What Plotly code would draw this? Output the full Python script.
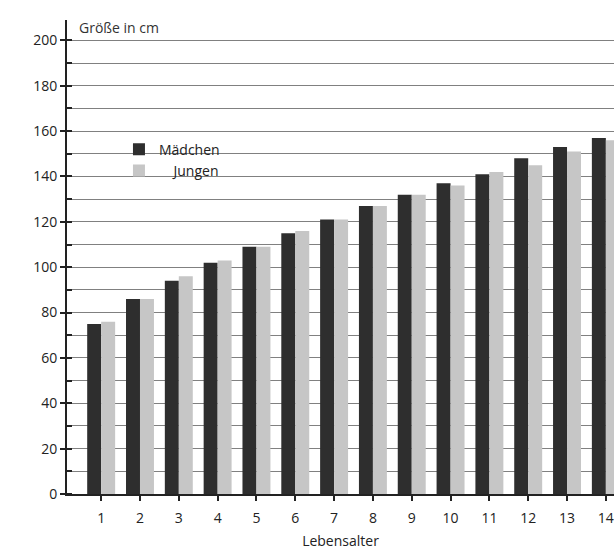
import plotly.graph_objects as go

ages = [1, 2, 3, 4, 5, 6, 7, 8, 9, 10, 11, 12, 13, 14]
maedchen = [75, 86, 94, 102, 109, 115, 121, 127, 132, 137, 141, 148, 153, 157]
jungen = [76, 86, 96, 103, 109, 116, 121, 127, 132, 136, 142, 145, 151, 156]

font_family = "Open Sans, Noto Sans, sans-serif"

fig = go.Figure()
fig.add_trace(go.Bar(x=ages, y=maedchen, name="Mädchen",
                     marker=dict(color="#2e2e2e", line=dict(width=0))))
fig.add_trace(go.Bar(x=ages, y=jungen, name="\u00a0\u00a0\u00a0\u00a0Jungen",
                     marker=dict(color="#c6c6c6", line=dict(width=0))))

fig.update_layout(
    width=614, height=555,
    margin=dict(l=67, r=0, t=20, b=61),
    paper_bgcolor="white", plot_bgcolor="white",
    barmode="group", bargap=0.28, bargroupgap=0,
    font=dict(family=font_family, size=14, color="#222"),
    legend=dict(x=0.095, y=0.76, xanchor="left", yanchor="top",
                bgcolor="rgba(255,255,255,0)", font=dict(size=14),
                tracegroupgap=2),
    annotations=[dict(text="Größe in cm", xref="paper", yref="paper",
                      x=0.018, y=0.985, xanchor="left", yanchor="middle",
                      showarrow=False, font=dict(size=14, color="#333"))],
)

fig.update_xaxes(
    range=[0.12, 14.21], tickmode="array", tickvals=ages,
    ticktext=[str(a) for a in ages],
    ticks="outside", ticklen=5, tickcolor="#222", tickwidth=1.5,
    ticklabelstandoff=5,
    showline=True, linecolor="#222", linewidth=2,
    showgrid=False, zeroline=False,
    title=dict(text="Lebensalter", standoff=10, font=dict(size=14)),
)

fig.update_yaxes(
    range=[0, 209], tickmode="linear", tick0=0, dtick=20,
    ticks="outside", ticklen=5, tickcolor="#222", tickwidth=2,
    showline=True, linecolor="#222", linewidth=2,
    showgrid=True, gridcolor="#808080", gridwidth=1,
    minor=dict(dtick=10, showgrid=True, gridcolor="#808080", gridwidth=1,
               ticks="inside", ticklen=5, tickcolor="#222", tickwidth=2),
    zeroline=False,
)

fig.write_html("out.html")
